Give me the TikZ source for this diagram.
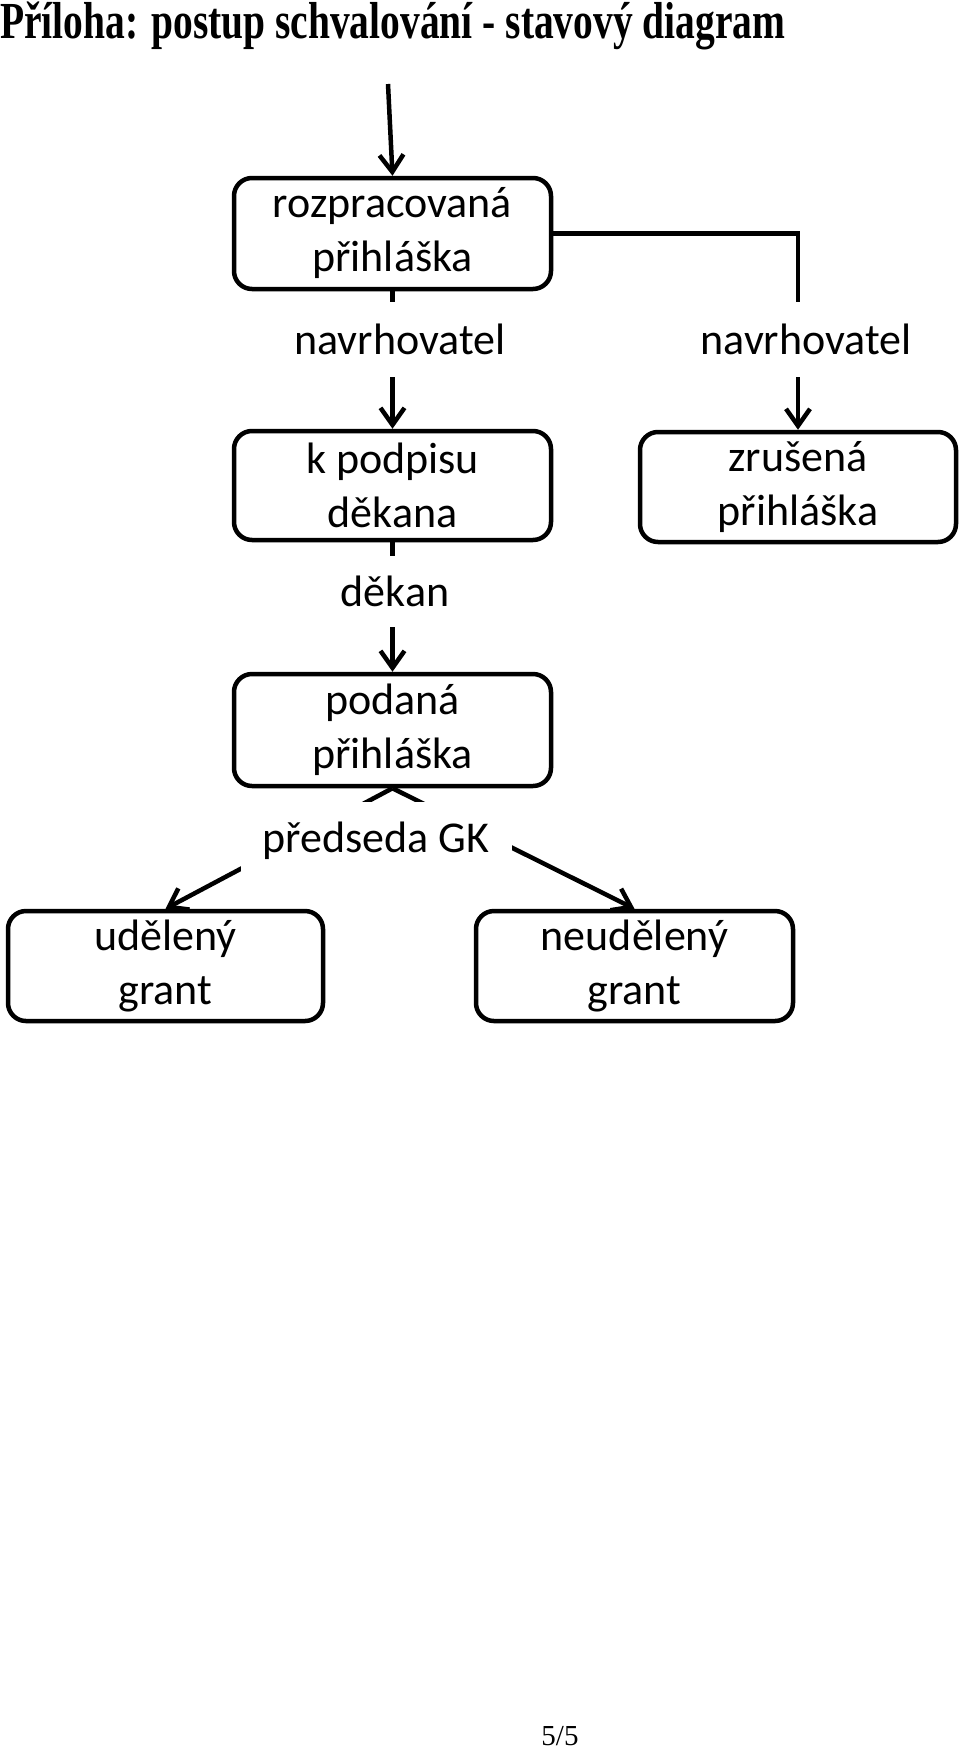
\documentclass[tikz,border=0pt]{standalone}
\usepackage{fontspec}
\usepackage{graphicx}
\setmainfont{Carlito}
\newfontfamily\timesfont{Liberation Serif}
\usetikzlibrary{arrows.meta}
\begin{document}
\begin{tikzpicture}[x=1pt,y=-1pt,
  state/.style={draw, line width=4.5pt, rounded corners=18pt, align=center,
    font=\fontsize{44}{54}\selectfont, inner sep=0pt},
  lbl/.style={fill=white, font=\fontsize{44}{54}\selectfont, inner xsep=4pt, inner ysep=0pt},
  arr/.style={line width=4.5pt, -{Straight Barb[length=17pt,width=24pt]}}]
\useasboundingbox (0,0) rectangle (960,1749);
% title
\node[anchor=base west, inner sep=0pt] (title) at (0,38)
  {\resizebox{785pt}{\height}{\timesfont\bfseries\fontsize{52}{56}\selectfont Příloha: postup schvalování - stavový diagram}};
% states
\node[state, minimum width=317pt, minimum height=111pt] (b1) at (392.5,233.5) {rozpracovaná\\přihláška};
\node[state, minimum width=317pt, minimum height=109pt] (b2) at (392.5,485.5) {k podpisu\\děkana};
\node[state, minimum width=316pt, minimum height=110pt] (b3) at (798,487) {zrušená\\přihláška};
\node[state, minimum width=317pt, minimum height=112pt] (b4) at (392.5,730) {podaná\\přihláška};
\node[state, minimum width=315pt, minimum height=110pt] (b5) at (165.5,966) {udělený\\grant};
\node[state, minimum width=317pt, minimum height=110pt] (b6) at (634.5,966) {neudělený\\grant};
\coordinate (start) at (388,84);
% connectors
\draw[arr] (start) -- (b1.north);
\draw[arr] (b1.south) -- (b2.north);
\draw[arr] (b1.east) -- (b1.east -| b3.north) -- (b3.north);
\draw[arr] (b2.south) -- (b4.north);
\draw[arr] (b4.south) -- (b5.north);
\draw[arr] (b4.south) -- (b6.north);
% labels
\node[lbl, minimum height=75pt] (l1) at (400,339.5) {navrhovatel};
\node[lbl, minimum height=75pt] (l2) at (806,339.5) {navrhovatel};
\node[lbl, minimum height=71pt] (l3) at (395,591.5) {děkan};
\node[lbl, minimum width=271pt, minimum height=78pt] (l4) at (376,841) {předseda GK};
% page number
\node[anchor=base, inner sep=0pt] (pg) at (560,1745) {\timesfont\fontsize{29}{31}\selectfont 5/5};
\end{tikzpicture}
\end{document}
